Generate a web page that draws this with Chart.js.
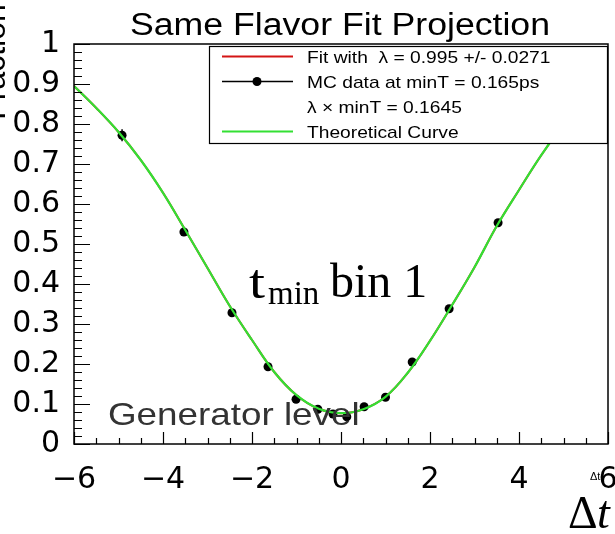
<!DOCTYPE html>
<html>
<head>
<meta charset="utf-8">
<script src="https://cdn.jsdelivr.net/npm/chart.js@4.4.0/dist/chart.umd.min.js"></script>
<style>
  body { margin: 0; background: #fff; }
  #wrap { width: 615px; height: 534px; position: relative; }
</style>
</head>
<body>
<div id="wrap"><canvas id="fit-chart"></canvas></div>
<script>
// MC data points (delta t, same-flavor fraction, error)
const dtPoints = [-4.92, -3.53, -2.45, -1.64, -1.01, -0.52, -0.18, 0.13, 0.52, 1.0, 1.6, 2.43, 3.53];
const sfPoints = [0.772, 0.530, 0.328, 0.193, 0.112, 0.087, 0.075, 0.068, 0.093, 0.117, 0.205, 0.338, 0.553];
const sfErrors = [0.015, 0.006, 0.005, 0.004, 0.004, 0.004, 0.004, 0.004, 0.004, 0.004, 0.005, 0.006, 0.007];

// theoretical curve, sampled every 0.5
const curveT = [-6, -5.5, -5, -4.5, -4, -3.5, -3, -2.5, -2, -1.5, -1, -0.5, 0, 0.5, 1, 1.5, 2, 2.5, 3, 3.5, 4, 4.5, 5, 5.5, 6];
const curveY = [0.895, 0.84, 0.78, 0.71, 0.628, 0.535, 0.44, 0.345, 0.26, 0.18, 0.122, 0.088, 0.077, 0.087, 0.118, 0.178, 0.258, 0.348, 0.442, 0.545, 0.635, 0.722, 0.80, 0.87, 0.92];

const xTicks = [-6, -4, -2, 0, 2, 4, 6];
const yTicks = [0, 0.1, 0.2, 0.3, 0.4, 0.5, 0.6, 0.7, 0.8, 0.9, 1];

const legendRows = [
  { text: 'Fit with  \u03bb = 0.995 +/- 0.0271', kind: 'line', color: '#d41515' },
  { text: 'MC data at minT = 0.165ps', kind: 'marker', color: '#000' },
  { text: '\u03bb \u00d7 minT = 0.1645', kind: 'none' },
  { text: 'Theoretical Curve', kind: 'line', color: '#33e033' }
];

const GREEN = '#33e033';

function stretchText(ctx, txt, x, y, font, sx, align, color) {
  ctx.save();
  ctx.font = font;
  ctx.fillStyle = color || '#000';
  ctx.textAlign = align || 'left';
  ctx.textBaseline = 'alphabetic';
  ctx.translate(x, y);
  ctx.scale(sx, 1);
  ctx.fillText(txt, 0, 0);
  ctx.restore();
}

// error bars under the markers
const errorBars = {
  id: 'errorBars',
  beforeDatasetsDraw(chart) {
    const { ctx, scales: { x, y } } = chart;
    ctx.save();
    ctx.strokeStyle = '#000';
    ctx.lineWidth = 1.5;
    dtPoints.forEach((t, i) => {
      const px = x.getPixelForValue(t);
      ctx.beginPath();
      ctx.moveTo(px, y.getPixelForValue(sfPoints[i] - sfErrors[i]));
      ctx.lineTo(px, y.getPixelForValue(sfPoints[i] + sfErrors[i]));
      ctx.stroke();
    });
    ctx.restore();
  }
};

// frame with inward ticks, legend box and labels
const frameAndText = {
  id: 'frameAndText',
  afterDatasetsDraw(chart) {
    const { ctx, chartArea: a, scales: { x, y } } = chart;
    ctx.save();
    ctx.strokeStyle = '#000';
    ctx.lineWidth = 1.5;
    ctx.strokeRect(a.left, a.top, a.right - a.left, a.bottom - a.top);

    ctx.lineWidth = 1.2;
    ctx.beginPath();
    for (let i = 0; i <= 50; i++) {
      const v = i * 0.02;
      const py = Math.round(y.getPixelForValue(v)) + 0.5;
      const len = i % 5 === 0 ? 16 : 8;
      ctx.moveTo(a.left, py);
      ctx.lineTo(a.left + len, py);
    }
    for (let i = 0; i <= 24; i++) {
      const v = -6 + i * 0.5;
      const px = Math.round(x.getPixelForValue(v)) + 0.5;
      const len = i % 4 === 0 ? 12 : 6;
      ctx.moveTo(px, a.bottom);
      ctx.lineTo(px, a.bottom - len);
    }
    ctx.stroke();

    // legend
    const lx = 209, ly = 46, lw = a.right - 209 - 1, lh = 97;
    ctx.fillStyle = '#fff';
    ctx.fillRect(lx, ly, lw, lh);
    ctx.lineWidth = 1.2;
    ctx.strokeRect(lx + 0.5, ly + 0.5, lw, lh);
    legendRows.forEach((row, i) => {
      const cy = 56.5 + i * 25;
      if (row.kind === 'line' || row.kind === 'marker') {
        ctx.strokeStyle = row.color;
        ctx.lineWidth = row.kind === 'line' ? 2 : 1.5;
        ctx.beginPath();
        ctx.moveTo(222, cy);
        ctx.lineTo(293, cy);
        ctx.stroke();
      }
      if (row.kind === 'marker') {
        ctx.fillStyle = '#000';
        ctx.beginPath();
        ctx.arc(257, cy, 4.5, 0, Math.PI * 2);
        ctx.fill();
      }
      stretchText(ctx, row.text, 307, cy + 6, '17px "Liberation Sans", Arial, sans-serif', 1.13);
    });
    ctx.restore();
  },
  afterDraw(chart) {
    const { ctx } = chart;
    stretchText(ctx, 'Same Flavor Fit Projection', 340, 35, '31px "Liberation Sans", Arial, sans-serif', 1.15, 'center');
    stretchText(ctx, 'Generator level', 108, 425, '32px "Liberation Sans", Arial, sans-serif', 1.15, 'left', '#333');

    // t_min bin 1
    stretchText(ctx, 't', 249, 298, '48px "Liberation Serif", serif', 1.2);
    stretchText(ctx, 'min', 268, 304, '33px "Liberation Serif", serif', 1.0);
    stretchText(ctx, 'bin 1', 330, 297, '48px "Liberation Serif", serif', 1.0);

    // axis titles
    stretchText(ctx, '\u0394t', 590, 480, '11px "Liberation Sans", Arial, sans-serif', 1.0);
    stretchText(ctx, '\u0394', 568, 528, '46px "Liberation Serif", serif', 1.0);
    stretchText(ctx, 't', 597, 528, 'italic 46px "Liberation Serif", serif', 1.0);

    ctx.save();
    ctx.translate(5, 62);
    ctx.rotate(-Math.PI / 2);
    ctx.font = '32px "Liberation Sans", Arial, sans-serif';
    ctx.fillStyle = '#000';
    ctx.textAlign = 'center';
    ctx.fillText('Fraction', 0, 0);
    ctx.restore();
  }
};

const curveData = curveT.map((t, i) => ({ x: t, y: curveY[i] }));
const pointData = dtPoints.map((t, i) => ({ x: t, y: sfPoints[i] }));

const tickFont = { family: '"DejaVu Sans", sans-serif', size: 30 };

const config = {
  type: 'line',
  data: {
    datasets: [
      {
        label: 'Theoretical Curve',
        data: curveData,
        borderColor: GREEN,
        borderWidth: 2.2,
        pointRadius: 0,
        tension: 0.4
      },
      {
        label: 'MC data',
        data: pointData,
        showLine: false,
        pointRadius: 4.5,
        pointBackgroundColor: '#000',
        pointBorderColor: '#000',
        pointBorderWidth: 0
      },
      {
        label: 'Fit',
        data: curveData,
        borderColor: '#d41515',
        borderWidth: 2,
        pointRadius: 0,
        tension: 0.4
      }
    ]
  },
  options: {
    responsive: true,
    maintainAspectRatio: false,
    devicePixelRatio: 1,
    animation: false,
    layout: { padding: { left: 0, right: 7, top: 44, bottom: 0 } },
    plugins: {
      legend: { display: false },
      tooltip: { enabled: false },
      title: { display: false }
    },
    scales: {
      x: {
        type: 'linear',
        min: -6,
        max: 6,
        afterBuildTicks: s => { s.ticks = xTicks.map(v => ({ value: v })); },
        afterFit: s => { s.height = 90; s.paddingLeft = 0; s.paddingRight = 0; },
        grid: { display: false },
        border: { display: false },
        ticks: {
          font: tickFont,
          color: '#000',
          padding: 10,
          maxRotation: 0,
          autoSkip: false,
          callback: v => String(v).replace('-', '\u2212')
        }
      },
      y: {
        min: 0,
        max: 1,
        afterBuildTicks: s => { s.ticks = yTicks.map(v => ({ value: v })); },
        afterFit: s => { s.width = 74; s.paddingTop = 0; s.paddingBottom = 0; },
        grid: { display: false },
        border: { display: false },
        ticks: {
          font: tickFont,
          color: '#000',
          padding: 6,
          autoSkip: false,
          callback: v => String(parseFloat(v.toFixed(1)))
        }
      }
    }
  },
  plugins: [errorBars, frameAndText]
};

new Chart(document.getElementById('fit-chart').getContext('2d'), config);
</script>
</body>
</html>
